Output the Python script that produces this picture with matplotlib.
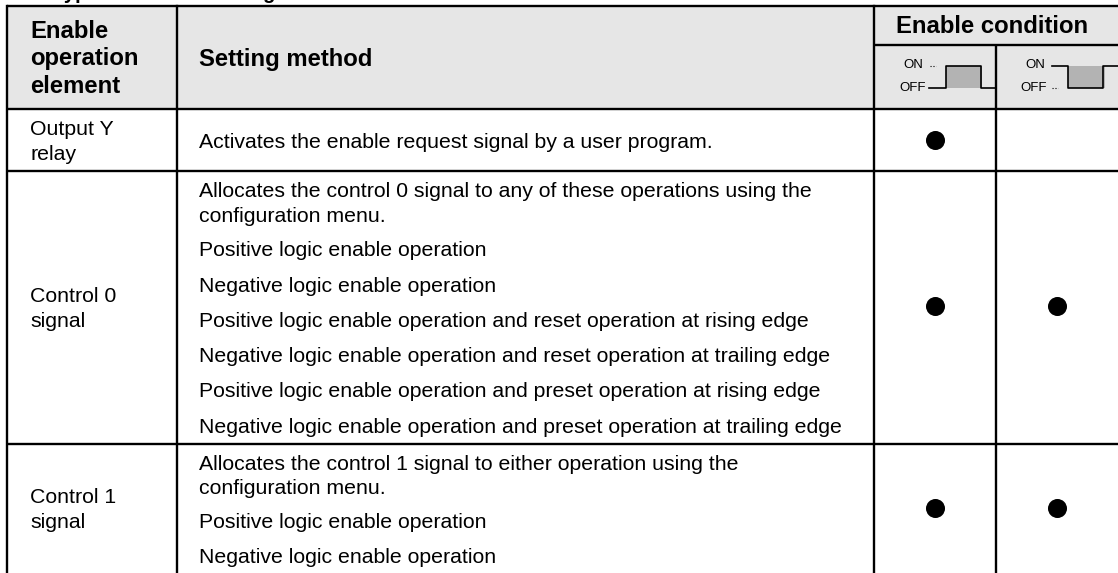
import matplotlib
matplotlib.use("Agg")
import matplotlib.pyplot as plt
from matplotlib.patches import Rectangle

W, H = 1118, 573
plt.rcParams['font.family'] = ['Liberation Sans', 'DejaVu Sans']

# column edges and row edges of the table, in image pixels
col_x = [7, 177, 874, 996, 1118]
row_y = [6, 109, 171, 444]

header_first = ["Enable", "operation", "element"]
header_method = "Setting method"
header_cond = "Enable condition"

element_labels = [["Output Y", "relay"], ["Control 0", "signal"], ["Control 1", "signal"]]

method_lines = [
    ["Activates the enable request signal by a user program."],
    ["Allocates the control 0 signal to any of these operations using the",
     "configuration menu.",
     "Positive logic enable operation",
     "Negative logic enable operation",
     "Positive logic enable operation and reset operation at rising edge",
     "Negative logic enable operation and reset operation at trailing edge",
     "Positive logic enable operation and preset operation at rising edge",
     "Negative logic enable operation and preset operation at trailing edge"],
    ["Allocates the control 1 signal to either operation using the",
     "configuration menu.",
     "Positive logic enable operation",
     "Negative logic enable operation"],
]
# text baselines
method_y = [
    [148],
    [197, 222, 256, 292, 327, 362, 397, 433],
    [470, 494, 528, 563],
]
element_y = [[135, 160], [302, 327], [503, 528]]
dots = [[True, False], [True, True], [True, True]]
dot_y = [140, 306, 508]

fig = plt.figure(figsize=(W / 100, H / 100), dpi=100)
ax = fig.add_axes([0, 0, 1, 1])
ax.set_xlim(0, W)
ax.set_ylim(H, 0)
ax.axis('off')

# header shading
ax.add_patch(Rectangle((col_x[0], row_y[0]), W - col_x[0], row_y[1] - row_y[0], fc='#e6e6e6', ec='none'))

# title is cut off at the very top of the picture, only descenders show
ax.text(53, -1, "Types of enable setting", fontsize=14.5, fontweight='bold', va='baseline', ha='left')

# grid lines
lw = 1.7
for y in row_y:
    ax.plot([col_x[0], W], [y, y], color='k', lw=lw, solid_capstyle='butt')
ax.plot([col_x[2], W], [45, 45], color='k', lw=lw, solid_capstyle='butt')
for x in col_x[:3]:
    ax.plot([x, x], [row_y[0], H], color='k', lw=lw)
ax.plot([col_x[3]] * 2, [45, H], color='k', lw=lw, solid_capstyle='butt')

# header text
for t, y in zip(header_first, [38, 65, 93]):
    ax.text(30, y, t, fontsize=17.2, fontweight='bold', va='baseline', ha='left')
ax.text(199, 66, header_method, fontsize=17.2, fontweight='bold', va='baseline', ha='left')
ax.text(992.5, 33, header_cond, fontsize=17.2, fontweight='bold', va='baseline', ha='center')

# text rows
for lines, ys in zip(element_labels, element_y):
    for t, y in zip(lines, ys):
        ax.text(30, y, t, fontsize=15.3, va='baseline', ha='left')
for lines, ys in zip(method_lines, method_y):
    for t, y in zip(lines, ys):
        ax.text(199, y, t, fontsize=15.3, va='baseline', ha='left')

# enable markers
for flags, y in zip(dots, dot_y):
    for k, on in enumerate(flags):
        if on:
            ax.plot([935, 1057][k], y, 'o', color='k', ms=13.7, mew=0)

# small waveform icons in the header
hi, lo = 65.5, 88
ax.add_patch(Rectangle((946, hi), 36, lo - hi, fc='#b3b3b3', ec='none'))
ax.plot([929, 946, 946, 981, 981, 996], [lo, lo, hi, hi, lo, lo], color='k', lw=1.2)
ax.add_patch(Rectangle((1068, hi), 37, lo - hi, fc='#b3b3b3', ec='none'))
ax.plot([1052, 1068, 1068, 1103, 1103, 1118], [hi, hi, lo, lo, hi, hi], color='k', lw=1.2)
for x, yy, t in [(923, hi, "ON"), (926, lo, "OFF"), (1045, hi, "ON"), (1047, lo, "OFF")]:
    ax.text(x, yy, t, fontsize=9.5, va='center', ha='right')
ax.plot([930, 936], [hi, hi], ls=':', color='k', lw=0.8)
ax.plot([1052, 1058], [lo, lo], ls=':', color='k', lw=0.8)

fig.savefig("out.png", dpi=100)
